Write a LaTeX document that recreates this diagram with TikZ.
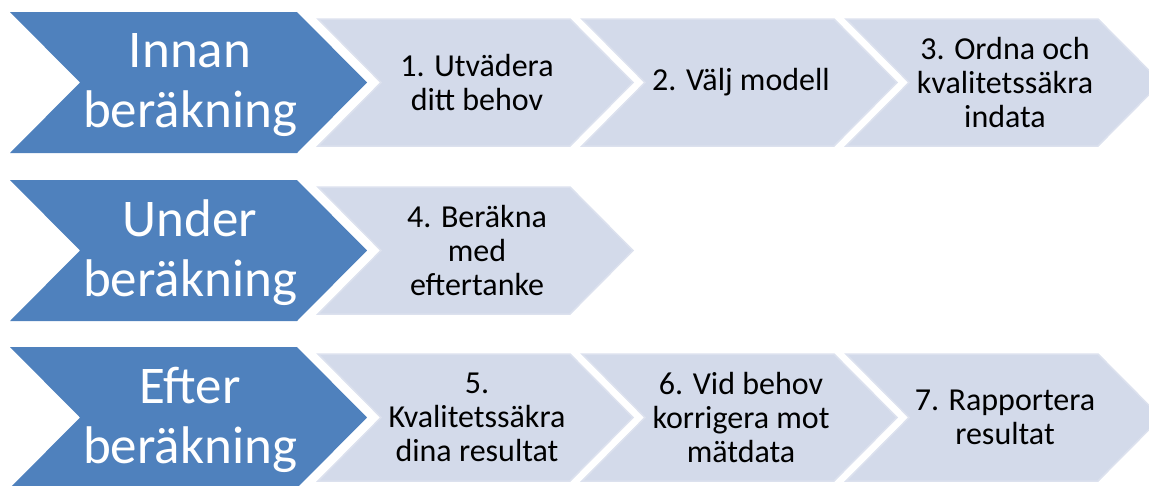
\documentclass[tikz,border=0pt]{standalone}
\usepackage{fontspec}
\setmainfont{Carlito}

\definecolor{phaseblue}{HTML}{4F81BD}
\definecolor{stepfill}{HTML}{D3DAEA}
\definecolor{stepedge}{HTML}{DCE1EE}

\begin{document}
\begin{tikzpicture}[x=1pt,y=-1pt,
    phase/.style={fill=phaseblue},
    stepbox/.style={fill=stepfill,draw=stepedge,line width=1.5pt,line join=miter},
    phasetext/.style={text=white,align=center,font=\fontsize{53}{60}\selectfont},
    steptext/.style={text=black,align=center,font=\fontsize{32}{34}\selectfont}]

        % page frame
        \useasboundingbox (0,0) rectangle (1149,485);
        \clip (0,0) rectangle (1149,485);

        % Phase macro:
        % #1 = y-top
        % #2 = node name
        % #3 = text
        \newcommand{\phasechev}[3]{%
            \fill[phase] (10,#1) -- ++(287,0) -- ++(70,70.5) -- ++(-70,70.5)
                -- ++(-287,0) -- ++(70,-70.5) -- cycle;
            \node[phasetext] (#2) at (190,{#1+73}) {#3};
        }

        % Step macro:
        % #1 = x-left
        % #2 = y-top
        % #3 = node name
        % #4 = text
        \newcommand{\stepchev}[4]{%
            \filldraw[stepbox] (#1,#2) -- ++(252,0) -- ++(63,63.5) -- ++(-63,63.5)
                -- ++(-252,0) -- ++(63,-63.5) -- cycle;
            \node[steptext] (#3) at ({#1+159},{#2+63.5}) {#4};
        }

        % before
        \phasechev{12}{innan}{Innan\\beräkning}
        \stepchev{318}{19}{s1}{1. Utvädera\\ditt behov}
        \stepchev{582}{19}{s2}{2. Välj modell}
        \stepchev{846}{19}{s3}{3. Ordna och\\kvalitetssäkra\\indata}

        % during
        \phasechev{180}{under}{Under\\beräkning}
        \stepchev{318}{187}{s4}{4. Beräkna\\med\\eftertanke}

        % after
        \phasechev{347}{efter}{Efter\\beräkning}
        \stepchev{318}{354}{s5}{5.\\Kvalitetssäkra\\dina resultat}
        \stepchev{582}{354}{s6}{6. Vid behov\\korrigera mot\\mätdata}
        \stepchev{846}{354}{s7}{7. Rapportera\\resultat}
    \end{tikzpicture}
\end{document}
